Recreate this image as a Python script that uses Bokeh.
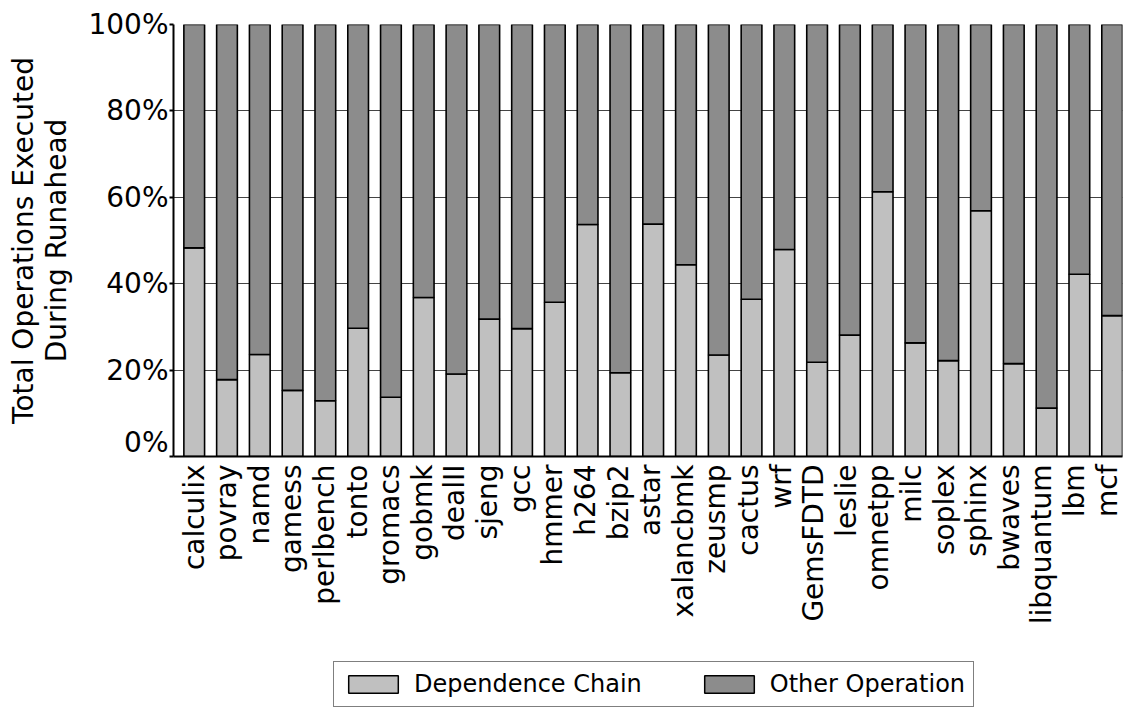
import math
from bokeh.plotting import figure
from bokeh.layouts import column
from bokeh.models import (Range1d, FixedTicker, PrintfTickFormatter, Legend, LegendItem,
                          ColumnDataSource)
from bokeh.core.properties import value
from bokeh.embed import file_html
from bokeh.resources import INLINE

benchmarks = ["calculix", "povray", "namd", "gamess", "perlbench", "tonto", "gromacs",
              "gobmk", "dealII", "sjeng", "gcc", "hmmer", "h264", "bzip2", "astar",
              "xalancbmk", "zeusmp", "cactus", "wrf", "GemsFDTD", "leslie", "omnetpp",
              "milc", "soplex", "sphinx", "bwaves", "libquantum", "lbm", "mcf"]
dependence_chain = [48.3, 17.8, 23.6, 15.3, 12.9, 29.7, 13.7, 36.8, 19.1, 31.8, 29.6, 35.7,
                    53.7, 19.4, 53.8, 44.4, 23.5, 36.4, 47.9, 21.8, 28.1, 61.3, 26.3, 22.2,
                    56.9, 21.5, 11.2, 42.2, 32.6]
other_operation = [round(100.0 - v, 1) for v in dependence_chain]
series_names = ["Dependence Chain", "Other Operation"]
y_ticks = [0, 20, 40, 60, 80, 100]

FONT = "DejaVu Sans"
LIGHT = "#c0c0c0"
DARK = "#8c8c8c"
BAR_W = 0.632

xs = list(range(len(benchmarks)))
src = ColumnDataSource(dict(x=xs, dep=dependence_chain, oth=other_operation, name=benchmarks))

X0 = -BAR_W
X1 = len(benchmarks) - 1 + BAR_W / 2
FRAME_W = 1127 - 173 - 5
PX_PER_UNIT = FRAME_W / (X1 - X0)

# ---------------- main chart ----------------
p = figure(width=1127, height=458, output_backend="svg", toolbar_location=None,
           x_range=Range1d(X0, X1), y_range=Range1d(0, 100),
           min_border_left=173, min_border_right=5, min_border_top=24, min_border_bottom=2)
p.outline_line_color = None

renderers = p.vbar_stack(["dep", "oth"], x="x", width=BAR_W, source=src,
                         fill_color=[LIGHT, DARK], line_color="black", line_width=1.6)

p.xaxis.ticker = FixedTicker(ticks=[])
p.xaxis.major_tick_out = 0
p.xaxis.major_tick_in = 0
p.xaxis.major_label_standoff = 0
p.xaxis.minor_tick_line_color = None
p.xaxis.axis_line_width = 2
p.xaxis.axis_line_color = "black"

p.yaxis.ticker = FixedTicker(ticks=y_ticks)
p.yaxis.formatter = PrintfTickFormatter(format="%d%%")
p.yaxis.major_tick_out = 4
p.yaxis.major_tick_in = 0
p.yaxis.minor_tick_line_color = None
p.yaxis.major_label_standoff = 1
p.yaxis.axis_line_width = 2
p.yaxis.axis_line_color = "black"
p.yaxis.major_tick_line_width = 2
p.yaxis.axis_label = "Total Operations Executed\nDuring Runahead"
p.yaxis.axis_label_standoff = 12
p.yaxis.axis_label_text_line_height = 1.0
p.yaxis.major_label_text_font = FONT
p.yaxis.major_label_text_font_size = "28px"
p.yaxis.major_label_text_color = "black"
p.yaxis.axis_label_text_font = FONT
p.yaxis.axis_label_text_font_size = "28px"
p.yaxis.axis_label_text_font_style = "normal"
p.yaxis.axis_label_text_color = "black"

p.xgrid.grid_line_color = None
p.ygrid.grid_line_color = "#444444"
p.ygrid.grid_line_width = 1

# ---------------- category labels + legend strip ----------------
# same pixels-per-unit as the chart, but the frame reaches the right edge so no label is clipped
q_x_end = X0 + (1127 - 173) / PX_PER_UNIT
q = figure(width=1127, height=251, output_backend="svg", toolbar_location=None,
           x_range=Range1d(X0, q_x_end), y_range=Range1d(0, 251),
           min_border_left=173, min_border_right=0, min_border_top=0, min_border_bottom=0,
           x_axis_location=None, y_axis_location=None)
q.outline_line_color = None
q.xgrid.grid_line_color = None
q.ygrid.grid_line_color = None

q.text(x="x", y=q.y_range.end, text="name", source=src, angle=math.pi / 2,
       y_offset=6, text_align="right", text_baseline="middle",
       text_font=value(FONT), text_font_size="28px", text_color="black")

# legend swatches take their style from these (hidden) stacked bars
key_renderers = q.vbar_stack(["dep", "oth"], x="x", width=BAR_W, source=src,
                             fill_color=[LIGHT, DARK], line_color="black", line_width=1.5,
                             visible=False)

legend = Legend(items=[LegendItem(label=series_names[0], renderers=[key_renderers[0]]),
                       LegendItem(label=series_names[1], renderers=[key_renderers[1]])],
                orientation="horizontal", location=(160, 2),
                label_text_font=FONT, label_text_font_size="24px", label_text_color="black",
                glyph_width=62, glyph_height=22, label_standoff=10, spacing=56,
                padding=8, margin=0, border_line_color="black", border_line_width=1.5,
                background_fill_color="white", background_fill_alpha=1)
q.add_layout(legend, "center")

layout = column(p, q, spacing=0)
open("out.html", "w").write(file_html(layout, INLINE))
